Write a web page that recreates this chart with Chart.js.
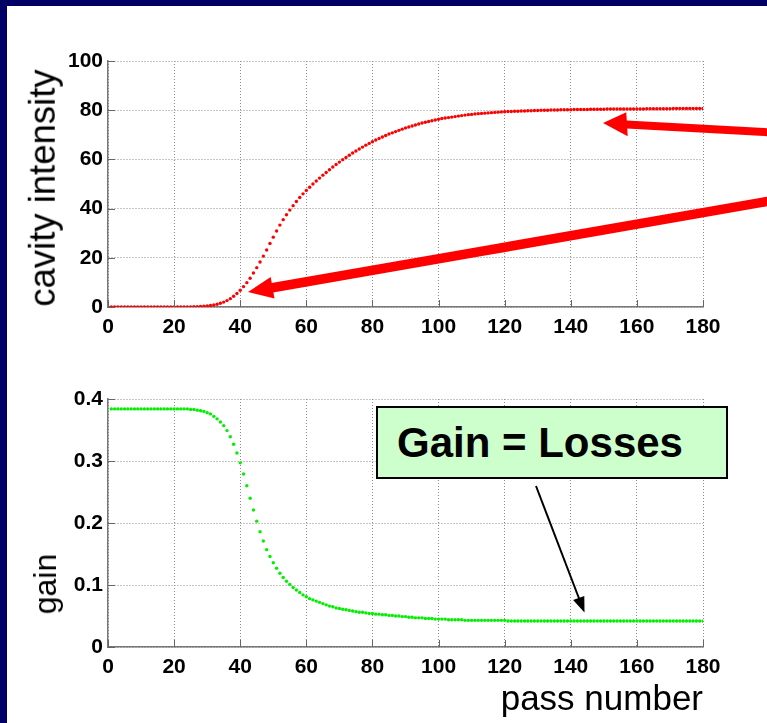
<!DOCTYPE html>
<html>
<head>
<meta charset="utf-8">
<script src="https://cdn.jsdelivr.net/npm/chart.js@4.4.1/dist/chart.umd.min.js"></script>
<style>
  html, body { margin: 0; padding: 0; }
  body { width: 767px; height: 723px; background: #000066; position: relative; overflow: hidden; }
  #paper { position: absolute; left: 7px; top: 6px; right: 0; bottom: 0; background: #fff; }
  canvas { position: absolute; left: 0; }
  #topChart { top: 0; }
  #bottomChart { top: 350px; }
  .lbl { position: absolute; font-family: "Liberation Sans", Arial, sans-serif; color: #000; white-space: nowrap; line-height: 1; }
  .ylbl { transform: translate(-50%, -50%) rotate(-90deg); }
  #note { position: absolute; left: 376px; top: 406px; width: 329px; height: 69px; background: #ccffcc;
          border: 2px solid #000; font: bold 42px "Liberation Sans", Arial, sans-serif; line-height: 69px;
          padding-left: 19px; box-sizing: content-box; }
  svg { position: absolute; left: 0; top: 0; }
</style>
</head>
<body>
<div id="paper"></div>
<canvas id="topChart" width="767" height="350"></canvas>
<canvas id="bottomChart" width="767" height="373"></canvas>

<div class="lbl ylbl" style="left:43px; top:188px; font-size:36.5px;">cavity intensity</div>
<div class="lbl ylbl" style="left:45px; top:584px; font-size:32px;">gain</div>
<div class="lbl" style="right:64px; top:680px; font-size:35px;">pass number</div>

<svg width="767" height="723">
  <!-- red arrows -->
  <line x1="622" y1="124.2" x2="770" y2="132.3" stroke="#ff0000" stroke-width="8"/>
  <polygon points="603,123 626.3,112.3 627.7,136.3" fill="#ff0000"/>
  <line x1="268" y1="288.5" x2="770" y2="201" stroke="#ff0000" stroke-width="9.5"/>
  <polygon points="248,292 270.7,276.9 274.5,298.5" fill="#ff0000"/>
  <!-- black arrow -->
  <line x1="536" y1="486" x2="580" y2="601" stroke="#000" stroke-width="2"/>
  <polygon points="584.5,612.5 573.1,600.1 584.3,595.9" fill="#000"/>
</svg>
<div id="note">Gain = Losses</div>

<script>
// pass number axis ticks
const xTicks = [0, 20, 40, 60, 80, 100, 120, 140, 160, 180];
const intensityTicks = [0, 20, 40, 60, 80, 100];
const gainTicks = [0, 0.1, 0.2, 0.3, 0.4];

// cavity intensity, passes 1..180
const intensity = [
  0, 0, 0, 0, 0, 0, 0, 0, 0, 0,
  0, 0, 0, 0, 0, 0, 0, 0, 0, 0,
  0, 0, 0, 0, 0.05, 0.1, 0.1, 0.2, 0.3, 0.4,
  0.6, 0.8, 1.1, 1.5, 2.0, 2.6, 3.4, 4.4, 5.5, 6.8,
  8.3, 9.9, 11.7, 13.8, 16.0, 18.3, 20.7, 23.2, 25.8, 28.4,
  30.9, 33.3, 35.5, 37.5, 39.4, 41.2, 42.9, 44.5, 46.0, 47.4,
  48.7, 50.0, 51.2, 52.4, 53.6, 54.7, 55.8, 56.9, 57.9, 58.9,
  59.9, 60.8, 61.7, 62.6, 63.4, 64.2, 65.0, 65.8, 66.5, 67.2,
  67.9, 68.5, 69.1, 69.7, 70.3, 70.8, 71.3, 71.8, 72.3, 72.8,
  73.2, 73.6, 74.0, 74.4, 74.8, 75.1, 75.4, 75.7, 76.0, 76.3,
  76.6, 76.8, 77.0, 77.2, 77.4, 77.6, 77.8, 78.0, 78.2, 78.3,
  78.5, 78.6, 78.7, 78.8, 78.9, 79.0, 79.1, 79.2, 79.3, 79.4,
  79.5, 79.5, 79.6, 79.6, 79.7, 79.7, 79.8, 79.8, 79.9, 79.9,
  80.0, 80.0, 80.0, 80.1, 80.1, 80.1, 80.2, 80.2, 80.2, 80.2,
  80.3, 80.3, 80.3, 80.3, 80.3, 80.4, 80.4, 80.4, 80.4, 80.4,
  80.5, 80.5, 80.5, 80.5, 80.5, 80.5, 80.5, 80.5, 80.5, 80.5,
  80.5, 80.5, 80.6, 80.6, 80.6, 80.6, 80.6, 80.6, 80.6, 80.6,
  80.7, 80.7, 80.7, 80.7, 80.7, 80.7, 80.7, 80.7, 80.7, 80.7
];

// gain, passes 1..180
const gain = [
  0.384, 0.384, 0.384, 0.384, 0.384, 0.384, 0.384, 0.384, 0.384, 0.384,
  0.384, 0.384, 0.384, 0.384, 0.384, 0.384, 0.384, 0.384, 0.384, 0.384,
  0.384, 0.384, 0.384, 0.384, 0.383, 0.383, 0.382, 0.381, 0.380, 0.378,
  0.376, 0.372, 0.368, 0.363, 0.357, 0.349, 0.339, 0.327, 0.313, 0.297,
  0.279, 0.260, 0.240, 0.221, 0.203, 0.186, 0.171, 0.157, 0.146, 0.136,
  0.127, 0.119, 0.112, 0.106, 0.101, 0.096, 0.092, 0.088, 0.084, 0.081,
  0.078, 0.076, 0.074, 0.072, 0.070, 0.068, 0.066, 0.065, 0.063, 0.062,
  0.061, 0.060, 0.059, 0.058, 0.057, 0.056, 0.056, 0.055, 0.054, 0.054,
  0.053, 0.053, 0.052, 0.052, 0.051, 0.051, 0.050, 0.050, 0.049, 0.049,
  0.048, 0.048, 0.047, 0.047, 0.047, 0.046, 0.046, 0.046, 0.045, 0.045,
  0.045, 0.045, 0.044, 0.044, 0.044, 0.044, 0.044, 0.043, 0.043, 0.043,
  0.043, 0.043, 0.043, 0.043, 0.043, 0.043, 0.043, 0.043, 0.043, 0.043,
  0.042, 0.042, 0.042, 0.042, 0.042, 0.042, 0.042, 0.042, 0.042, 0.042,
  0.042, 0.042, 0.042, 0.042, 0.042, 0.042, 0.042, 0.042, 0.042, 0.042,
  0.042, 0.042, 0.042, 0.042, 0.042, 0.042, 0.042, 0.042, 0.042, 0.042,
  0.042, 0.042, 0.042, 0.042, 0.042, 0.042, 0.042, 0.042, 0.042, 0.042,
  0.042, 0.042, 0.042, 0.042, 0.042, 0.042, 0.042, 0.042, 0.042, 0.042,
  0.042, 0.042, 0.042, 0.042, 0.042, 0.042, 0.042, 0.042, 0.042, 0.042
];

const tickFont = { family: "'Liberation Sans Narrow', 'Liberation Sans', Arial, sans-serif", size: 21, weight: "bold" };

// small tick marks pointing into the plot, like matlab
const innerTicks = {
    id: "innerTicks",
    afterDraw(chart) {
        const ctx = chart.ctx;
        const area = chart.chartArea;
        ctx.save();
        ctx.strokeStyle = "#666";
        ctx.lineWidth = 1;
        ctx.beginPath();
        chart.scales.x.ticks.forEach(t => {
            const px = Math.round(chart.scales.x.getPixelForValue(t.value)) + 0.5;
            ctx.moveTo(px, area.bottom);
            ctx.lineTo(px, area.bottom - 7);
        });
        chart.scales.y.ticks.forEach(t => {
            const py = Math.round(chart.scales.y.getPixelForValue(t.value)) + 0.5;
            ctx.moveTo(area.left, py);
            ctx.lineTo(area.left + 7, py);
        });
        ctx.stroke();
        ctx.restore();
    }
};

function makeChart(id, values, color, yMax, yTicks, top, xHeight) {
    const pts = values.map((v, i) => ({ x: i + 1, y: v }));
    return new Chart(document.getElementById(id), {
        type: "line",
        data: {
            datasets: [{
                data: pts,
                showLine: false,
                pointRadius: 1.7,
                pointBorderWidth: 0,
                pointBackgroundColor: color,
                borderColor: color
            }]
        },
        options: {
            responsive: false,
            animation: false,
            layout: { autoPadding: false, padding: { left: 0, right: 64, top: top, bottom: 0 } },
            plugins: { legend: { display: false }, tooltip: { enabled: false } },
            scales: {
                x: {
                    type: "linear",
                    min: 0,
                    max: 180,
                    afterBuildTicks: s => { s.ticks = xTicks.map(v => ({ value: v })); },
                    afterFit: s => { s.height = xHeight; },
                    grid: { color: "#8c8c8c", lineWidth: 1, drawTicks: false },
                    border: { display: true, color: "#777", width: 1.5, dash: [1, 2] },
                    ticks: { color: "#000", font: tickFont, padding: 8, maxRotation: 0 }
                },
                y: {
                    min: 0,
                    max: yMax,
                    afterBuildTicks: s => { s.ticks = yTicks.map(v => ({ value: v })); },
                    afterFit: s => { s.width = 108; },
                    grid: { color: "#8c8c8c", lineWidth: 1, drawTicks: false },
                    border: { display: true, color: "#777", width: 1.5, dash: [1, 2] },
                    ticks: { color: "#000", font: tickFont, padding: 5, callback: v => String(v) }
                }
            }
        },
        plugins: [innerTicks]
    });
}

makeChart("topChart", intensity, "#ff0000", 100, intensityTicks, 61, 43);
makeChart("bottomChart", gain, "#00f000", 0.4, gainTicks, 49, 76);
</script>
</body>
</html>
